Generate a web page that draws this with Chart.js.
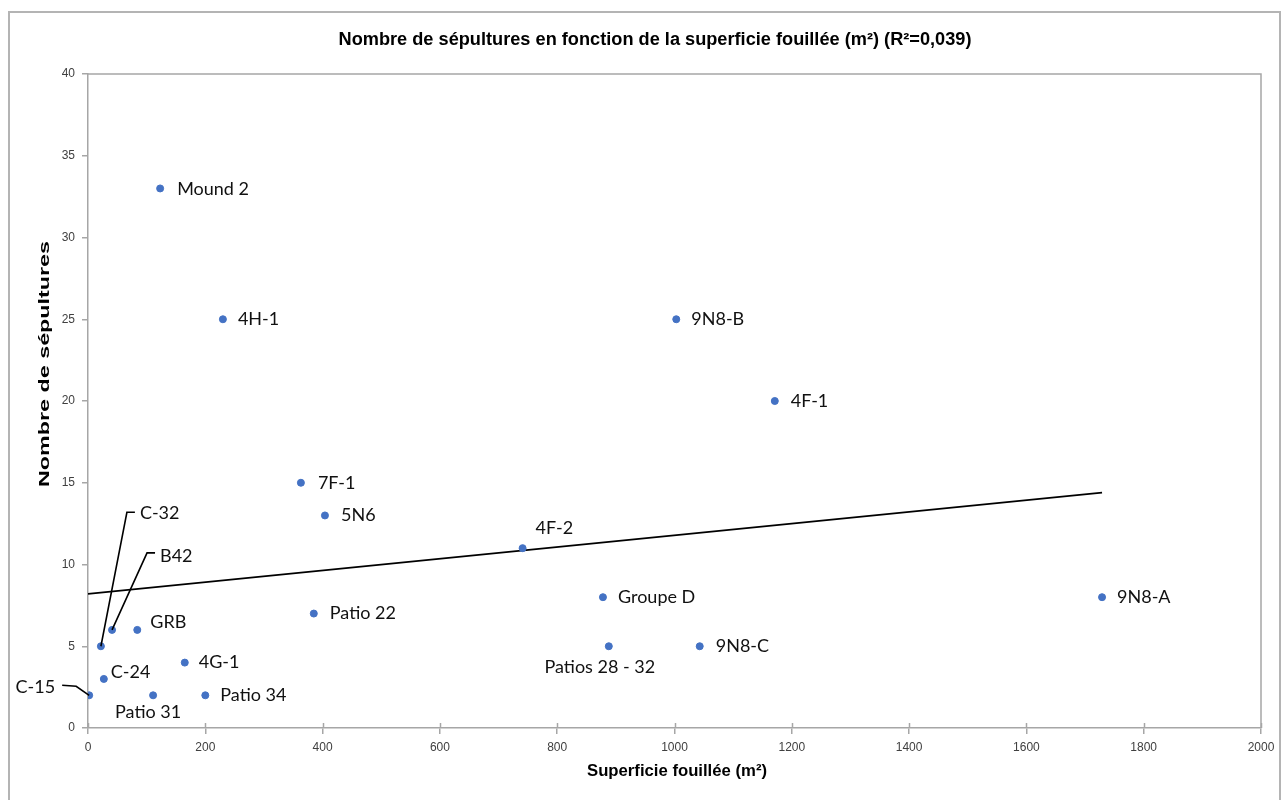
<!DOCTYPE html>
<html>
<head>
<meta charset="utf-8">
<script src="https://cdn.jsdelivr.net/npm/chart.js@4"></script>
<style>
  html, body { margin: 0; padding: 0; background: #ffffff; }
  #wrap { width: 1284px; height: 800px; position: relative; }
</style>
</head>
<body>
<div id="wrap"><canvas id="c" width="1284" height="800"></canvas></div>
<script>
// ---- data ----
const siteNames = ["Mound 2", "4H-1", "9N8-B", "4F-1", "7F-1", "5N6", "4F-2", "Groupe D", "9N8-A", "Patio 22",
  "Patios 28 - 32", "9N8-C", "GRB", "B42", "C-32", "4G-1", "C-24", "C-15", "Patio 31", "Patio 34"];
const areaExcavated = [123, 230, 1003, 1171, 363, 404, 741, 878, 1729, 385,
  888, 1043, 84, 41, 22, 165, 27, 2, 111, 200];
const burialCount = [33, 25, 25, 20, 15, 13, 11, 8, 8, 7,
  5, 5, 6, 6, 5, 4, 3, 2, 2, 2];
const trendAreas = [0, 1729];
const trendBurials = [8.2, 14.4];
const xTickValues = [0, 200, 400, 600, 800, 1000, 1200, 1400, 1600, 1800, 2000];
const yTickValues = [0, 5, 10, 15, 20, 25, 30, 35, 40];

const chartTitle = "Nombre de sépultures en fonction de la superficie fouillée (m²) (R²=0,039)";
const xTitle = "Superficie fouillée (m²)";
const yTitle = "Nombre de sépultures";

// ---- label placement (pixel offsets from point) ----
const labelStyle = {
  "Mound 2": { dx: 17, dy: 1, align: "left" },
  "4H-1": { dx: 15, dy: 0, align: "left" },
  "9N8-B": { dx: 15, dy: 0, align: "left" },
  "4F-1": { dx: 16, dy: 0, align: "left" },
  "7F-1": { dx: 17, dy: 0, align: "left" },
  "5N6": { dx: 16, dy: 0, align: "left" },
  "4F-2": { dx: 13, dy: -20, align: "left" },
  "Groupe D": { dx: 15, dy: 0, align: "left" },
  "9N8-A": { dx: 15, dy: 0, align: "left" },
  "Patio 22": { dx: 16, dy: 0, align: "left" },
  "Patios 28 - 32": { dx: -9, dy: 21, align: "center" },
  "9N8-C": { dx: 16, dy: 0, align: "left" },
  "GRB": { dx: 13, dy: -8, align: "left" },
  "B42": { dx: 48, dy: -74, align: "left", leader: [[35, -77], [43, -77]] },
  "C-32": { dx: 39, dy: -133, align: "left", leader: [[26, -134], [34, -134]] },
  "4G-1": { dx: 14, dy: 0, align: "left" },
  "C-24": { dx: 7, dy: -7, align: "left" },
  "C-15": { dx: -34, dy: -8, align: "right", leader: [[-13, -9], [-27, -10]] },
  "Patio 31": { dx: -5, dy: 17, align: "center" },
  "Patio 34": { dx: 15, dy: 0, align: "left" }
};

const points = areaExcavated.map((x, i) => ({ x: x, y: burialCount[i] }));
const trend = trendAreas.map((x, i) => ({ x: x, y: trendBurials[i] }));

// draw text scaled along its direction to a target length
function drawFitted(ctx, text, cx, cy, target, font, angle) {
  ctx.save();
  ctx.font = font;
  const w = ctx.measureText(text).width;
  ctx.translate(cx, cy);
  ctx.rotate(angle);
  ctx.scale(target / w, 1);
  ctx.textAlign = "center";
  ctx.textBaseline = "middle";
  ctx.fillText(text, 0, 0);
  ctx.restore();
}

const decorPlugin = {
  id: "decor",
  beforeDraw(chart) {
    const ctx = chart.ctx;
    ctx.save();
    ctx.fillStyle = "#ffffff";
    ctx.fillRect(0, 0, chart.width, chart.height);
    ctx.strokeStyle = "#b4b4b4";
    ctx.lineWidth = 2;
    ctx.strokeRect(9, 12, 1271, 800);
    const a = chart.chartArea;
    ctx.strokeStyle = "#a6a6a6";
    ctx.lineWidth = 1.5;
    ctx.beginPath();
    ctx.moveTo(a.left, a.top);
    ctx.lineTo(a.right, a.top);
    ctx.lineTo(a.right, a.bottom);
    ctx.stroke();
    ctx.restore();
  },
  afterDatasetsDraw(chart) {
    // inner half of the crossing tick marks on the x axis
    const ctx = chart.ctx;
    const xs = chart.scales.x;
    const a = chart.chartArea;
    ctx.save();
    ctx.strokeStyle = "#a6a6a6";
    ctx.lineWidth = 1.5;
    ctx.beginPath();
    xTickValues.forEach(v => {
      const px = Math.round(xs.getPixelForValue(v)) + 0.5;
      ctx.moveTo(px, a.bottom);
      ctx.lineTo(px, a.bottom - 5);
    });
    ctx.stroke();
    ctx.restore();
  },
  afterDraw(chart) {
    const ctx = chart.ctx;
    const xs = chart.scales.x, ys = chart.scales.y;
    ctx.save();
    ctx.fillStyle = "#000000";
    drawFitted(ctx, chartTitle, 655, 40, 633, "bold 18px 'Liberation Sans', Arial, sans-serif", 0);
    drawFitted(ctx, xTitle, 677, 772, 180, "bold 16px 'Liberation Sans', Arial, sans-serif", 0);
    drawFitted(ctx, yTitle, 45, 364, 246, "bold 15px 'Liberation Sans', Arial, sans-serif", -Math.PI / 2);

    ctx.font = "18px Lato, 'Open Sans', sans-serif";
    ctx.textBaseline = "middle";
    siteNames.forEach((name, i) => {
      const px = xs.getPixelForValue(areaExcavated[i]);
      const py = ys.getPixelForValue(burialCount[i]);
      const s = labelStyle[name];
      if (s.leader) {
        ctx.strokeStyle = "#000000";
        ctx.lineWidth = 1.6;
        ctx.beginPath();
        ctx.moveTo(px, py);
        s.leader.forEach(p => ctx.lineTo(px + p[0], py + p[1]));
        ctx.stroke();
      }
      ctx.fillStyle = "#111111";
      ctx.textAlign = s.align;
      ctx.fillText(name, px + s.dx, py + s.dy);
    });
    ctx.restore();
  }
};

new Chart(document.getElementById("c"), {
  data: {
    datasets: [
      {
        type: "scatter",
        label: "Sites",
        data: points,
        backgroundColor: "#4472C4",
        borderColor: "#4472C4",
        pointRadius: 3.5,
        pointHoverRadius: 3.5,
        order: 0
      },
      {
        type: "line",
        label: "Tendance",
        data: trend,
        borderColor: "#000000",
        borderWidth: 1.8,
        pointRadius: 0,
        fill: false,
        order: 1
      }
    ]
  },
  plugins: [decorPlugin],
  options: {
    responsive: false,
    animation: false,
    events: [],
    layout: { padding: { left: 26, right: 23, top: 74, bottom: 42 } },
    plugins: {
      legend: { display: false },
      title: { display: false },
      tooltip: { enabled: false }
    },
    scales: {
      x: {
        type: "linear",
        min: 0,
        max: 2000,
        afterFit(s) { s.height = 30; },
        afterBuildTicks(s) { s.ticks = xTickValues.map(v => ({ value: v })); },
        ticks: {
          color: "#404040",
          padding: 6,
          maxRotation: 0,
          callback: (v) => String(v),
          font: { family: "'Liberation Sans', Arial, sans-serif", size: 12 }
        },
        grid: { drawOnChartArea: false, drawTicks: true, tickLength: 6, color: "#a6a6a6", lineWidth: 1.5 },
        border: { color: "#a6a6a6", width: 1.5 }
      },
      y: {
        type: "linear",
        min: 0,
        max: 40,
        afterFit(s) { s.width = 62; },
        afterBuildTicks(s) { s.ticks = yTickValues.map(v => ({ value: v })); },
        ticks: {
          color: "#404040",
          padding: 7,
          callback: (v) => String(v),
          font: { family: "'Liberation Sans', Arial, sans-serif", size: 12 }
        },
        grid: { drawOnChartArea: false, drawTicks: true, tickLength: 6, color: "#a6a6a6", lineWidth: 1.5 },
        border: { color: "#a6a6a6", width: 1.5 }
      }
    }
  }
});
</script>
</body>
</html>
